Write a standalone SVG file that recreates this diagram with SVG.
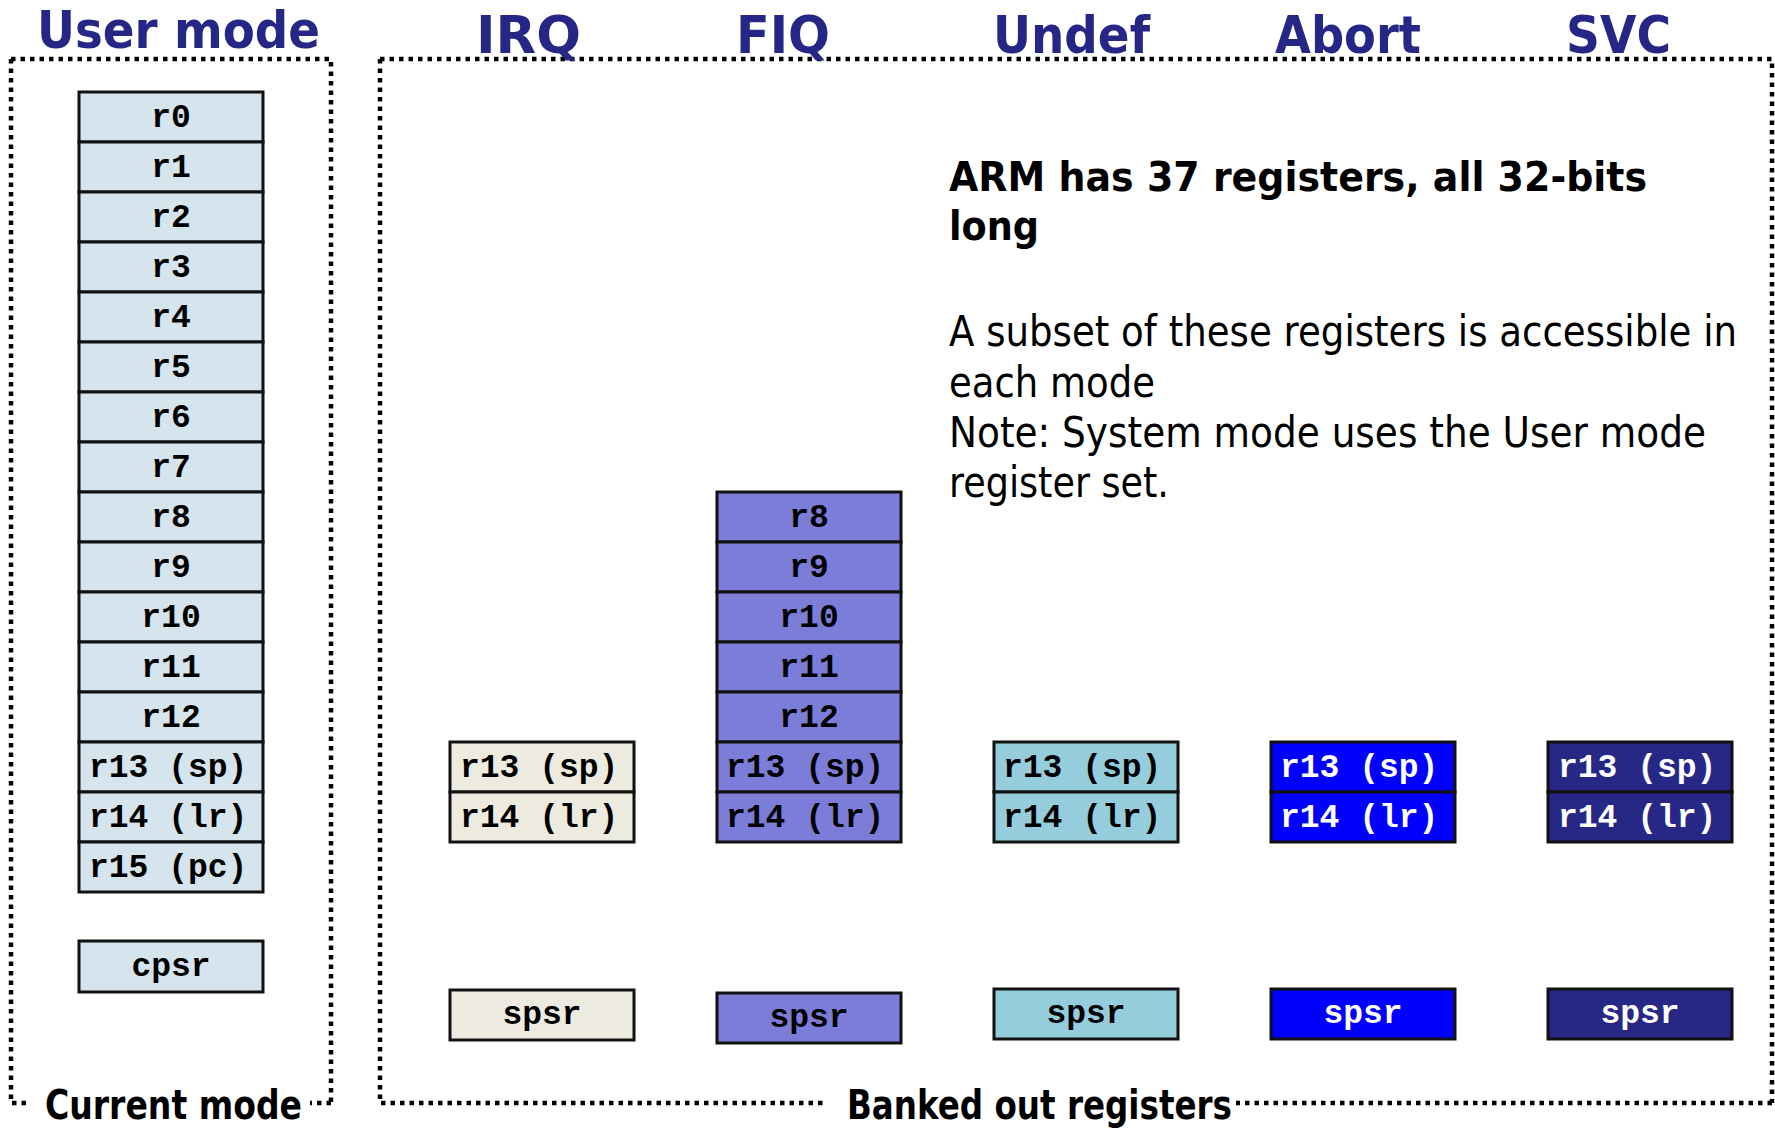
<svg xmlns="http://www.w3.org/2000/svg" width="1775" height="1128" viewBox="0 0 1775 1128">
<style>
.bg{fill:#ffffff}
.dot{fill:none;stroke:#000;stroke-width:4.5;stroke-dasharray:4.5 5}
.hdr{font-family:"DejaVu Sans",sans-serif;font-weight:bold;font-size:52px;fill:#262686}
.lbl{font-family:"DejaVu Sans",sans-serif;font-weight:bold;font-size:41px;fill:#000}
.note{font-family:"DejaVu Sans",sans-serif;font-size:42px;fill:#000}
.nb{font-family:"DejaVu Sans",sans-serif;font-weight:bold;font-size:41px;fill:#000}
.reg rect{stroke:#111;stroke-width:3}
.reg text{font-family:"Liberation Mono","Courier New",monospace;font-weight:bold;font-size:33px}
.c{text-anchor:middle}
.user rect{fill:#D6E4ED}
.irq rect{fill:#EDEBE0}
.fiq rect{fill:#7B7DD9}
.und rect{fill:#95CDDC}
.abt rect{fill:#0000FF}
.svc rect{fill:#272786}
.dk text{fill:#000}
.lt text{fill:#fff}
</style>
<rect class="bg" x="0" y="0" width="1775" height="1128"/>

<g id="frames">
  <path class="dot" d="M11,59 H331 V1103"/>
  <path class="dot" d="M11,59 V1103 H30"/>
  <path class="dot" d="M331,1103 H310"/>
  <path class="dot" d="M380,59 H1772 V1103"/>
  <path class="dot" d="M380,59 V1103 H826"/>
  <path class="dot" d="M1772,1103 H1236"/>
</g>

<g id="headers">
  <text class="hdr" x="37" y="48" textLength="283" lengthAdjust="spacingAndGlyphs">User mode</text>
  <text class="hdr" x="476" y="53" textLength="105" lengthAdjust="spacingAndGlyphs">IRQ</text>
  <text class="hdr" x="736" y="53" textLength="94" lengthAdjust="spacingAndGlyphs">FIQ</text>
  <text class="hdr" x="993" y="53" textLength="157" lengthAdjust="spacingAndGlyphs">Undef</text>
  <text class="hdr" x="1275" y="53" textLength="146" lengthAdjust="spacingAndGlyphs">Abort</text>
  <text class="hdr" x="1566" y="53" textLength="105" lengthAdjust="spacingAndGlyphs">SVC</text>
</g>

<g id="footers">
  <text class="lbl" x="45" y="1119" textLength="257" lengthAdjust="spacingAndGlyphs">Current mode</text>
  <text class="lbl" x="847" y="1119" textLength="385" lengthAdjust="spacingAndGlyphs">Banked out registers</text>
</g>

<g id="notes">
  <text class="nb" x="949" y="191" textLength="698" lengthAdjust="spacingAndGlyphs">ARM has 37 registers, all 32-bits</text>
  <text class="nb" x="949" y="240" textLength="90" lengthAdjust="spacingAndGlyphs">long</text>
  <text class="note" x="949" y="346" textLength="788" lengthAdjust="spacingAndGlyphs">A subset of these registers is accessible in</text>
  <text class="note" x="949" y="397" textLength="206" lengthAdjust="spacingAndGlyphs">each mode</text>
  <text class="note" x="949" y="447" textLength="757" lengthAdjust="spacingAndGlyphs">Note: System mode uses the User mode</text>
  <text class="note" x="949" y="497" textLength="220" lengthAdjust="spacingAndGlyphs">register set.</text>
</g>

<g id="user" class="reg user dk">
  <g id="user-r0"><rect x="79" y="92" width="184" height="50"/><text class="c" x="171" y="127">r0</text></g>
  <g id="user-r1"><rect x="79" y="142" width="184" height="50"/><text class="c" x="171" y="177">r1</text></g>
  <g id="user-r2"><rect x="79" y="192" width="184" height="50"/><text class="c" x="171" y="227">r2</text></g>
  <g id="user-r3"><rect x="79" y="242" width="184" height="50"/><text class="c" x="171" y="277">r3</text></g>
  <g id="user-r4"><rect x="79" y="292" width="184" height="50"/><text class="c" x="171" y="327">r4</text></g>
  <g id="user-r5"><rect x="79" y="342" width="184" height="50"/><text class="c" x="171" y="377">r5</text></g>
  <g id="user-r6"><rect x="79" y="392" width="184" height="50"/><text class="c" x="171" y="427">r6</text></g>
  <g id="user-r7"><rect x="79" y="442" width="184" height="50"/><text class="c" x="171" y="477">r7</text></g>
  <g id="user-r8"><rect x="79" y="492" width="184" height="50"/><text class="c" x="171" y="527">r8</text></g>
  <g id="user-r9"><rect x="79" y="542" width="184" height="50"/><text class="c" x="171" y="577">r9</text></g>
  <g id="user-r10"><rect x="79" y="592" width="184" height="50"/><text class="c" x="171" y="627">r10</text></g>
  <g id="user-r11"><rect x="79" y="642" width="184" height="50"/><text class="c" x="171" y="677">r11</text></g>
  <g id="user-r12"><rect x="79" y="692" width="184" height="50"/><text class="c" x="171" y="727">r12</text></g>
  <g id="user-r13"><rect x="79" y="742" width="184" height="50"/><text x="89" y="777">r13 (sp)</text></g>
  <g id="user-r14"><rect x="79" y="792" width="184" height="50"/><text x="89" y="827">r14 (lr)</text></g>
  <g id="user-r15"><rect x="79" y="842" width="184" height="50"/><text x="89" y="877">r15 (pc)</text></g>
  <g id="user-cpsr"><rect x="79" y="941" width="184" height="51"/><text class="c" x="171" y="976">cpsr</text></g>
</g>

<g id="irq" class="reg irq dk">
  <g id="irq-r13"><rect x="450" y="742" width="184" height="50"/><text x="460" y="777">r13 (sp)</text></g>
  <g id="irq-r14"><rect x="450" y="792" width="184" height="50"/><text x="460" y="827">r14 (lr)</text></g>
  <g id="irq-spsr"><rect x="450" y="990" width="184" height="50"/><text class="c" x="542" y="1024">spsr</text></g>
</g>

<g id="fiq" class="reg fiq dk">
  <g id="fiq-r8"><rect x="717" y="492" width="184" height="50"/><text class="c" x="809" y="527">r8</text></g>
  <g id="fiq-r9"><rect x="717" y="542" width="184" height="50"/><text class="c" x="809" y="577">r9</text></g>
  <g id="fiq-r10"><rect x="717" y="592" width="184" height="50"/><text class="c" x="809" y="627">r10</text></g>
  <g id="fiq-r11"><rect x="717" y="642" width="184" height="50"/><text class="c" x="809" y="677">r11</text></g>
  <g id="fiq-r12"><rect x="717" y="692" width="184" height="50"/><text class="c" x="809" y="727">r12</text></g>
  <g id="fiq-r13"><rect x="717" y="742" width="184" height="50"/><text x="726" y="777">r13 (sp)</text></g>
  <g id="fiq-r14"><rect x="717" y="792" width="184" height="50"/><text x="726" y="827">r14 (lr)</text></g>
  <g id="fiq-spsr"><rect x="717" y="993" width="184" height="50"/><text class="c" x="809" y="1027">spsr</text></g>
</g>

<g id="undef" class="reg und dk">
  <g id="undef-r13"><rect x="994" y="742" width="184" height="50"/><text x="1003" y="777">r13 (sp)</text></g>
  <g id="undef-r14"><rect x="994" y="792" width="184" height="50"/><text x="1003" y="827">r14 (lr)</text></g>
  <g id="undef-spsr"><rect x="994" y="989" width="184" height="50"/><text class="c" x="1086" y="1023">spsr</text></g>
</g>

<g id="abort" class="reg abt lt">
  <g id="abort-r13"><rect x="1271" y="742" width="184" height="50"/><text x="1280" y="777">r13 (sp)</text></g>
  <g id="abort-r14"><rect x="1271" y="792" width="184" height="50"/><text x="1280" y="827">r14 (lr)</text></g>
  <g id="abort-spsr"><rect x="1271" y="989" width="184" height="50"/><text class="c" x="1363" y="1023">spsr</text></g>
</g>

<g id="svc" class="reg svc lt">
  <g id="svc-r13"><rect x="1548" y="742" width="184" height="50"/><text x="1558" y="777">r13 (sp)</text></g>
  <g id="svc-r14"><rect x="1548" y="792" width="184" height="50"/><text x="1558" y="827">r14 (lr)</text></g>
  <g id="svc-spsr"><rect x="1548" y="989" width="184" height="50"/><text class="c" x="1640" y="1023">spsr</text></g>
</g>
</svg>
